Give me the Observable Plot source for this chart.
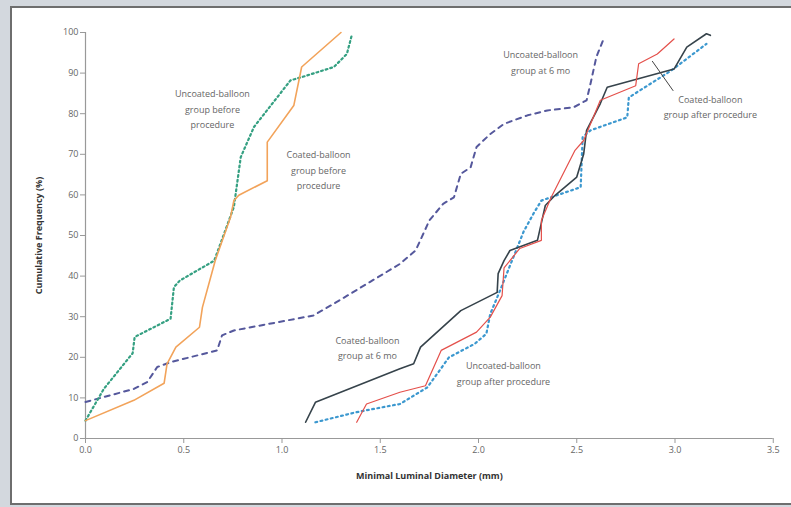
<!DOCTYPE html>
<html>
<head>
<meta charset="utf-8">
<script src="https://cdn.jsdelivr.net/npm/d3@7"></script>
<script src="https://cdn.jsdelivr.net/npm/@observablehq/plot@0.6"></script>
<style>
  html, body { margin: 0; padding: 0; width: 791px; height: 507px; overflow: hidden; background: #d3d8de; }
  #panel { position: absolute; left: 10px; top: 6px; width: 790px; height: 495px; background: #fff; border: 2px solid #6e6e6e; border-right: none; }
  #chart { position: absolute; left: 0; top: 0; }
  #chart svg { font-family: "Open Sans", "Noto Sans", sans-serif; }
  #chart [aria-label="x-axis label"] text, #chart [aria-label="y-axis label"] text { font-weight: bold; fill: #333; }
</style>
</head>
<body>
<div id="panel"></div>
<div id="chart"></div>
<script>
// Coated-balloon group before procedure
const coatedBeforeX = [0, 0.246, 0.40, 0.415, 0.46, 0.58, 0.595, 0.66, 0.738, 0.755, 0.78, 0.925, 0.925, 1.06, 1.10, 1.30];
const coatedBeforeY = [4.4, 9.4, 13.6, 18.4, 22.5, 27.4, 32.3, 43.8, 54.5, 58.6, 59.9, 63.5, 73, 82, 91.5, 100];
// Uncoated-balloon group before procedure
const uncoatedBeforeX = [0, 0.093, 0.24, 0.25, 0.433, 0.45, 0.48, 0.655, 0.755, 0.79, 0.857, 1.043, 1.10, 1.264, 1.33, 1.357];
const uncoatedBeforeY = [4.4, 12.2, 21, 25, 29.5, 37.3, 38.9, 43.8, 57, 69.3, 76.7, 88.2, 89, 91.5, 94.7, 99.7];
// Uncoated-balloon group at 6 mo
const uncoated6moX = [0, 0.093, 0.246, 0.314, 0.365, 0.433, 0.67, 0.695, 0.755, 1.16, 1.264, 1.60, 1.68, 1.75, 1.82, 1.875, 1.91, 1.96, 1.99, 2.06, 2.13, 2.25, 2.35, 2.485, 2.55, 2.57, 2.60, 2.64];
const uncoated6moY = [9, 10.2, 12.2, 13.9, 17.6, 18.8, 21.7, 25.4, 26.6, 30.3, 33.2, 43, 46.3, 53.7, 57.8, 59.4, 65.2, 66.8, 71.8, 75, 77.5, 79.6, 80.8, 81.6, 83.3, 87.4, 94, 98.8];
// Coated-balloon group at 6 mo
const coated6moX = [1.12, 1.17, 1.60, 1.67, 1.705, 1.91, 2.095, 2.10, 2.13, 2.16, 2.30, 2.34, 2.39, 2.50, 2.535, 2.55, 2.62, 2.655, 2.995, 3.06, 3.16, 3.18];
const coated6moY = [4, 8.9, 17.2, 18.4, 22.5, 31.5, 36, 40.6, 43.8, 46.3, 48.8, 57.4, 59.9, 64.4, 70, 75.9, 82.5, 86.5, 91, 96.4, 99.7, 99.3];
// Coated-balloon group after procedure
const coatedAfterX = [1.38, 1.43, 1.60, 1.73, 1.81, 1.99, 2.06, 2.12, 2.13, 2.21, 2.32, 2.32, 2.37, 2.49, 2.535, 2.62, 2.80, 2.815, 2.91, 2.995];
const coatedAfterY = [4, 8.5, 11.4, 13, 21.7, 26.2, 29.9, 35.2, 42, 46.8, 48.8, 53.7, 59.4, 70.9, 73.4, 83.3, 86.9, 92.3, 94.7, 98.4];
// Uncoated-balloon group after procedure
const uncoatedAfterX = [1.17, 1.38, 1.60, 1.74, 1.85, 1.98, 2.04, 2.06, 2.11, 2.23, 2.28, 2.32, 2.52, 2.53, 2.57, 2.757, 2.765, 2.98, 3.16];
const uncoatedAfterY = [4, 6.5, 8.5, 12.6, 20, 23.3, 25.8, 30.7, 36.5, 51, 55.4, 58.6, 61.9, 74.2, 75.9, 79.1, 84, 90.6, 97.2];

const xTicks = [0, 0.5, 1.0, 1.5, 2.0, 2.5, 3.0, 3.5];
const yTicks = [0, 10, 20, 30, 40, 50, 60, 70, 80, 90, 100];

const labelTexts = [
  "Uncoated-balloon\ngroup before\nprocedure",
  "Coated-balloon\ngroup before\nprocedure",
  "Uncoated-balloon\ngroup at 6 mo",
  "Coated-balloon\ngroup after procedure",
  "Coated-balloon\ngroup at 6 mo",
  "Uncoated-balloon\ngroup after procedure"
];
const labelX = [0.646, 1.186, 2.316, 3.18, 1.435, 2.127];
const labelY = [81.5, 66.5, 92.9, 82, 22.7, 16.3];
const leaderX = [2.885, 2.99];
const leaderY = [92.9, 85.7];

const pts = (xs, ys) => xs.map((x, i) => ({x, y: ys[i]}));
const labels = labelTexts.map((t, i) => ({t, x: labelX[i], y: labelY[i]}));

const chart = Plot.plot({
  width: 791,
  height: 507,
  marginLeft: 85,
  marginRight: 18.25,
  marginTop: 32,
  marginBottom: 69,
  style: {background: "transparent", fontSize: "9px", color: "#555"},
  x: {domain: [0, 3.5]},
  y: {domain: [0, 100]},
  marks: [
    Plot.ruleY([0], {stroke: "#999", strokeWidth: 1.2}),
    Plot.ruleX([0], {stroke: "#999", strokeWidth: 1.2}),
    Plot.axisX({ticks: xTicks, tickFormat: d3.format(".1f"), tickSize: 5, tickPadding: 3, stroke: "#999", fill: "#666",
      label: "Minimal Luminal Diameter (mm)", labelAnchor: "center", labelArrow: "none", labelOffset: 40}),
    Plot.axisY({ticks: yTicks, tickSize: 5, tickPadding: 2, stroke: "#999", fill: "#666",
      label: "Cumulative Frequency (%)", labelAnchor: "center", labelArrow: "none", labelOffset: 50}),
    Plot.line(pts(uncoated6moX, uncoated6moY), {x: "x", y: "y", stroke: "#55589c", strokeWidth: 2, strokeDasharray: "5,5"}),
    Plot.line(pts(uncoatedBeforeX, uncoatedBeforeY), {x: "x", y: "y", stroke: "#35a082", strokeWidth: 2.2, strokeDasharray: "1.8,3"}),
    Plot.line(pts(coatedBeforeX, coatedBeforeY), {x: "x", y: "y", stroke: "#f2a35a", strokeWidth: 1.6}),
    Plot.line(pts(uncoatedAfterX, uncoatedAfterY), {x: "x", y: "y", stroke: "#3c98cf", strokeWidth: 2.2, strokeDasharray: "1.8,3.5"}),
    Plot.line(pts(coated6moX, coated6moY), {x: "x", y: "y", stroke: "#36434b", strokeWidth: 1.6}),
    Plot.line(pts(coatedAfterX, coatedAfterY), {x: "x", y: "y", stroke: "#e4504b", strokeWidth: 1.2}),
    Plot.line(pts(leaderX, leaderY), {x: "x", y: "y", stroke: "#444", strokeWidth: 1}),
    Plot.text(labels, {x: "x", y: "y", text: "t", fill: "#666", fontSize: 9, lineHeight: 1.75, textAnchor: "middle", lineAnchor: "middle"})
  ]
});
document.getElementById("chart").appendChild(chart);
</script>
</body>
</html>
